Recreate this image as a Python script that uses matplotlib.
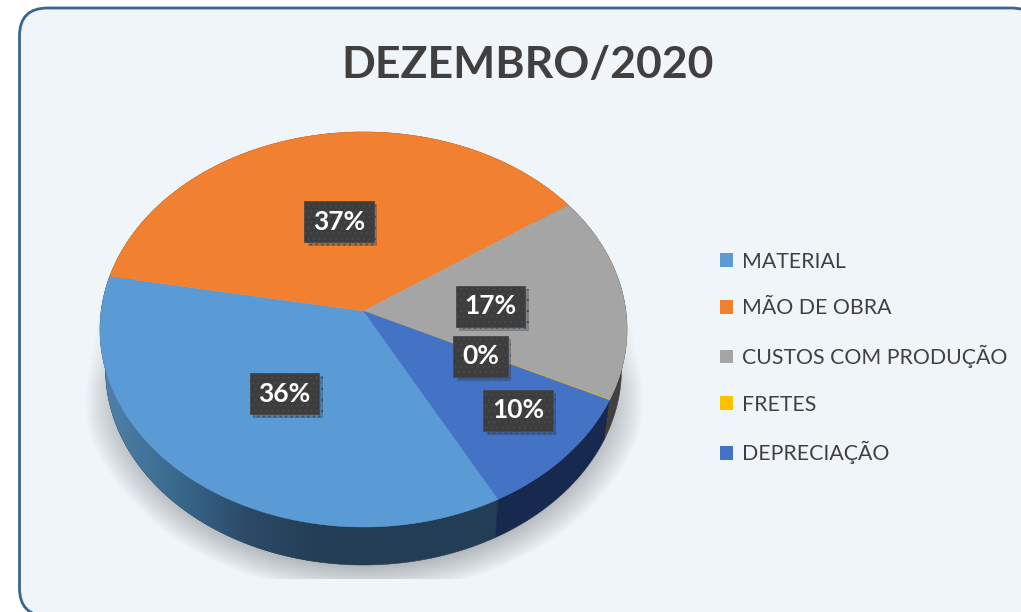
import numpy as np
import matplotlib
matplotlib.use("Agg")
import matplotlib.pyplot as plt
from matplotlib.patches import FancyBboxPatch, Polygon, Patch
from matplotlib.colors import LinearSegmentedColormap
import matplotlib.patheffects as pe

# --- data -------------------------------------------------------------
title = "DEZEMBRO/2020"
categories = ["MATERIAL", "MÃO DE OBRA", "CUSTOS COM PRODUÇÃO", "FRETES", "DEPRECIAÇÃO"]
values = [35.7, 37.5, 16.8, 0.05, 10.0]
value_labels = ["36%", "37%", "17%", "0%", "10%"]

# --- style ------------------------------------------------------------
colors = ["#5B9BD5", "#F18030", "#A5A5A5", "#FFC000", "#4472C4"]
rim_colors = ["#233E54", "#8A4A1C", "#404040", "#7F6000", "#17294F"]
label_xy = [(284.5, 393.5), (339, 221.5), (490.5, 306.5), (480.5, 356.5), (518, 410.5)]
W, H = 1021, 612
CX, CY, RX, RY = 363.5, 329.5, 263.5, 197.5
BOT_RX, BOT_RY, BOT_DY = 258.0, 196.0, 39.5
K = (CY - 311.0) / RY
START = 298.1

plt.rcParams["font.family"] = ["Lato", "DejaVu Sans"]
fig = plt.figure(figsize=(W / 100, H / 100), dpi=100, facecolor="white")

# background axes in pixel coordinates
bg = fig.add_axes([0, 0, 1, 1], zorder=0)
bg.set_xlim(0, W)
bg.set_ylim(H, 0)
bg.axis("off")
card = FancyBboxPatch((19.5, 8), 1020, 608, boxstyle="round,pad=0,rounding_size=28",
                      fc="#F0F5FA", ec="#3A6690", lw=2.0)
bg.add_patch(card)

# soft shadow under the pie
yy, xx = np.mgrid[0:H, 0:W]
a = 266 + np.clip(yy - 310, 0, 120) * (20 / 120)
ny = np.where(yy > 372, (yy - 372) / 222.0, 0)
d = 1 - np.hypot((xx - 363.5) / a, ny)
alpha = np.clip(d / 0.13, 0, 1) ** 0.9
alpha *= np.clip((yy - 295) / 90.0, 0, 1)
alpha[yy >= 579] = 0
sh = np.zeros((H, W, 4))
sh[..., :3] = np.array([0xA8, 0xAD, 0xB1]) / 255
sh[..., 3] = alpha * 0.85
im = bg.imshow(sh, extent=[0, W, H, 0], aspect="auto", zorder=1, interpolation="bilinear")
im.set_clip_path(card)
bg.set_xlim(0, W)
bg.set_ylim(H, 0)

# pie axes: unit circle stretched to the top ellipse of the pie
ax = fig.add_axes([0, 0, 1, 1], zorder=1)
wedges, _ = ax.pie(values, colors=colors, startangle=START, counterclock=False,
                   radius=1, center=(0, 0))
ax.set_aspect("auto")
for w in wedges:
    w.set_visible(False)


def project(x, y):
    den = 1 + K * y
    return x * np.sqrt(1 - K ** 2) / den, (y + K) / den


for i, w in enumerate(wedges):
    t = np.radians(np.linspace(w.theta1, w.theta2, 200))
    ex, ey = project(np.cos(t), np.sin(t))
    # side wall
    bx = ex * BOT_RX / RX
    by = (ey * BOT_RY - BOT_DY) / RY
    side = Polygon(np.r_[np.c_[ex, ey], np.c_[bx, by][::-1]], closed=True,
                   fc=rim_colors[i], ec=rim_colors[i], lw=0.4, zorder=2)
    ax.add_patch(side)
    if i == 0:
        cm = LinearSegmentedColormap.from_list(
            "rim", ["#5083AD", "#3A6A8E", "#2C4A68", "#233E54"])
        x0, x1 = (100 - CX) / RX, (320 - CX) / RX
        img = ax.imshow(np.linspace(0, 1, 256)[None, :], extent=[x0, x1, -2, 1],
                        cmap=cm, aspect="auto", zorder=2.1)
        img.set_clip_path(side)

for i, w in enumerate(wedges):
    t = np.radians(np.linspace(w.theta1, w.theta2, 200))
    ex, ey = project(np.cos(t), np.sin(t))
    vx, vy = project(np.array([0.0]), np.array([0.0]))
    ax.add_patch(Polygon(np.r_[np.c_[vx, vy], np.c_[ex, ey]], closed=True,
                         fc=colors[i], ec=colors[i], lw=0.3, zorder=3))

ax.set_xlim((0 - CX) / RX, (W - CX) / RX)
ax.set_ylim((CY - H) / RY, CY / RY)
ax.set_aspect("auto")
ax.axis("off")
ax.patch.set_visible(False)

# data labels
plt.rcParams["hatch.linewidth"] = 0.7
for lab, (x, y) in zip(value_labels, label_xy):
    tx = ax.text(x, y, lab, transform=bg.transData, ha="center", va="center",
                 color="white", fontsize=19, fontweight="bold", zorder=6,
                 bbox=dict(boxstyle="square,pad=0.33", fc="#3D3D3D", ec="#4A4A4A",
                           lw=0.6, hatch="..."))
    tx.get_bbox_patch().set_path_effects(
        [pe.SimplePatchShadow(offset=(2.5, -2.5), shadow_rgbFace="#203040", alpha=0.3),
         pe.Normal()])

# title
ax.text(527.5, 65.5, title, transform=bg.transData, ha="center", va="center",
        color="#404040", fontsize=32, fontweight="bold", zorder=6)

# legend
handles = [Patch(fc=c, ec="none", label=n) for c, n in zip(colors, categories)]
leg = ax.legend(handles=handles, loc="center left", bbox_to_anchor=(709, 358),
                bbox_transform=bg.transData, frameon=False, fontsize=15.3,
                labelcolor="#404040", handlelength=0.61, handleheight=0.61,
                handletextpad=0.42, labelspacing=1.25, borderpad=0, borderaxespad=0.5)
leg.set_zorder(6)

fig.savefig("out.png", dpi=100, facecolor="white")
